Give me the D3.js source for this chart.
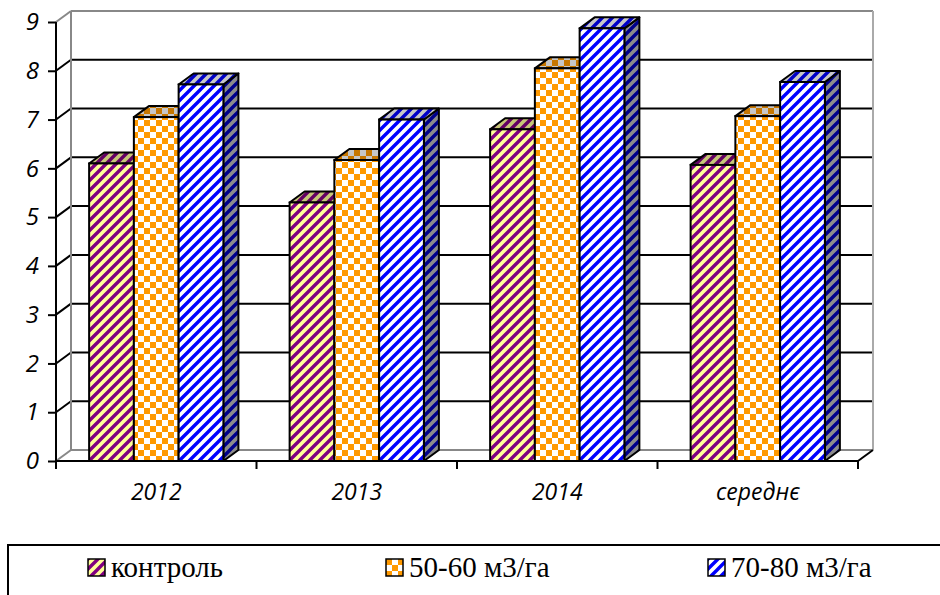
<!DOCTYPE html>
<html>
<head>
<meta charset="utf-8">
<script src="https://cdn.jsdelivr.net/npm/d3@7"></script>
<style>
  body { margin: 0; background: #fff; }
  svg { display: block; }
  .lbl { font-family: "Open Sans", sans-serif; font-style: italic; font-size: 24px; fill: #000; }
  .leg { font-family: "Liberation Serif", "Times New Roman", serif; font-size: 29px; fill: #000; }
</style>
</head>
<body>
<svg id="chart" width="940" height="595"></svg>
<script>
var categories = ["2012", "2013", "2014", "середнє"]
var seriesNames = ["контроль", "50-60 м3/га", "70-80 м3/га"]
var kontrol = [6.1, 5.3, 6.8, 6.07]
var dose50 = [7.05, 6.17, 8.05, 7.07]
var dose70 = [7.72, 7.0, 8.87, 7.77]
var yTicks = [0, 1, 2, 3, 4, 5, 6, 7, 8, 9]

var values = [kontrol, dose50, dose70]
var svg = d3.select("#chart")

// depth offset of the 3d box
var DX = 15, DY = 11

var y = d3.scaleLinear().domain([0, 9]).range([461, 22])
var x = d3.scaleBand().domain(categories).range([56, 858])
var xs = d3.scaleBand().domain(seriesNames).range([0, x.bandwidth()]).paddingOuter(0.74)

// patterns
var defs = svg.append("defs")
function stripes(id, bg, fg) {
    var p = defs.append("pattern").attr("id", id)
        .attr("patternUnits", "userSpaceOnUse").attr("width", 10).attr("height", 10)
    p.append("rect").attr("width", 10).attr("height", 10).attr("fill", bg)
    p.append("path").attr("d", "M-3,3L3,-3M0,10L10,0M7,13L13,7")
        .attr("stroke", fg).attr("stroke-width", 3.4)
}
stripes("p0", "#ffff99", "#800080")
stripes("p2", "#ffffff", "#0000ff")
var chk = defs.append("pattern").attr("id", "p1")
    .attr("patternUnits", "userSpaceOnUse").attr("width", 12).attr("height", 12)
chk.append("rect").attr("width", 12).attr("height", 12).attr("fill", "#ffffff")
chk.append("rect").attr("width", 6).attr("height", 6).attr("fill", "#ff9900")
chk.append("rect").attr("x", 6).attr("y", 6).attr("width", 6).attr("height", 6).attr("fill", "#ff9900")

// back wall gridlines
var grid = svg.append("g")
grid.selectAll("line.g").data(yTicks).enter().append("line")
    .attr("x1", 56 + DX).attr("x2", 858 + DX)
    .attr("y1", function(d) { return y(d) - DY }).attr("y2", function(d) { return y(d) - DY })
    .attr("stroke", function(d) { return (d == 0 || d == 9) ? "#888" : "#000" })
    .attr("stroke-width", 2)
grid.selectAll("line.d").data(yTicks).enter().append("line")
    .attr("x1", 56).attr("x2", 56 + DX)
    .attr("y1", function(d) { return y(d) }).attr("y2", function(d) { return y(d) - DY })
    .attr("stroke", function(d) { return (d == 0 || d == 9) ? "#888" : "#000" })
    .attr("stroke-width", 2)
grid.append("line").attr("x1", 56 + DX).attr("x2", 56 + DX)
    .attr("y1", y(9) - DY).attr("y2", y(0) - DY).attr("stroke", "#888").attr("stroke-width", 2)
grid.append("line").attr("x1", 858 + DX).attr("x2", 858 + DX)
    .attr("y1", y(9) - DY).attr("y2", y(0) - DY).attr("stroke", "#aaa").attr("stroke-width", 2)

// bars
var bars = []
categories.forEach(function(c, ci) {
    seriesNames.forEach(function(s, si) {
        bars.push({ cat: c, ser: s, si: si, v: values[si][ci] })
    })
})
var bar = svg.append("g").selectAll("g").data(bars).enter().append("g")
bar.each(function(d) {
    var g = d3.select(this)
    var x0 = x(d.cat) + xs(d.ser), x1 = x0 + xs.bandwidth()
    var yt = y(d.v), yb = y(0)
    var fill = "url(#p" + d.si + ")"
    var side = [[x1, yt], [x1 + DX, yt - DY], [x1 + DX, yb - DY], [x1, yb]]
    var top = [[x0, yt], [x1, yt], [x1 + DX, yt - DY], [x0 + DX, yt - DY]]
    g.append("polygon").attr("points", side.join(" ")).attr("fill", fill)
    g.append("polygon").attr("points", side.join(" ")).attr("fill", "#000").attr("fill-opacity", 0.45)
        .attr("stroke", "#000").attr("stroke-width", 2).attr("stroke-linejoin", "round")
    g.append("polygon").attr("points", top.join(" ")).attr("fill", fill)
    g.append("polygon").attr("points", top.join(" ")).attr("fill", "#000").attr("fill-opacity", 0.22)
        .attr("stroke", "#000").attr("stroke-width", 2).attr("stroke-linejoin", "round")
    g.append("rect").attr("x", x0).attr("y", yt).attr("width", x1 - x0).attr("height", yb - yt)
        .attr("fill", fill).attr("stroke", "#000").attr("stroke-width", 2)
})

// front axes
var yAxis = svg.append("g").attr("transform", "translate(56,0)")
    .call(d3.axisLeft(y).tickValues(yTicks).tickSize(8).tickPadding(9).tickFormat(d3.format("d")))
yAxis.attr("font-family", null).attr("font-size", null)
yAxis.select(".domain").attr("stroke", "#000").attr("stroke-width", 2).attr("d", "M0," + y(9) + "V" + y(0))
yAxis.selectAll(".tick line").attr("stroke", "#000").attr("stroke-width", 2)
yAxis.selectAll("text").attr("class", "lbl").attr("fill", null)

var xAxis = svg.append("g").attr("transform", "translate(0," + y(0) + ")")
    .call(d3.axisBottom(x).tickSize(0).tickPadding(23))
xAxis.attr("font-family", null).attr("font-size", null)
xAxis.select(".domain").remove()
xAxis.selectAll("text").attr("class", "lbl").attr("fill", null).style("font-size", "23px")
svg.append("line").attr("x1", 56).attr("x2", 858).attr("y1", y(0)).attr("y2", y(0))
    .attr("stroke", "#000").attr("stroke-width", 2)
svg.append("line").attr("x1", 858).attr("x2", 858 + DX).attr("y1", y(0)).attr("y2", y(0) - DY)
    .attr("stroke", "#000").attr("stroke-width", 2)
var bounds = categories.map(function(c) { return x(c) }).concat([x.range()[1]])
svg.selectAll("line.xt").data(bounds).enter().append("line")
    .attr("x1", function(d) { return d }).attr("x2", function(d) { return d })
    .attr("y1", y(0)).attr("y2", y(0) + 8).attr("stroke", "#000").attr("stroke-width", 2)

// legend
svg.append("rect").attr("x", 8).attr("y", 545).attr("width", 960).attr("height", 80)
    .attr("fill", "none").attr("stroke", "#000").attr("stroke-width", 2)
var legX = [88, 386, 708]
var leg = svg.append("g").selectAll("g").data(seriesNames).enter().append("g")
    .attr("transform", function(d, i) { return "translate(" + legX[i] + ",559)" })
leg.append("rect").attr("width", 17).attr("height", 17)
    .attr("fill", function(d, i) { return "url(#p" + i + ")" })
    .attr("stroke", "#000").attr("stroke-width", 1.5)
leg.append("text").attr("class", "leg").attr("x", 23).attr("y", 18)
    .text(function(d) { return d })
</script>
</body>
</html>
